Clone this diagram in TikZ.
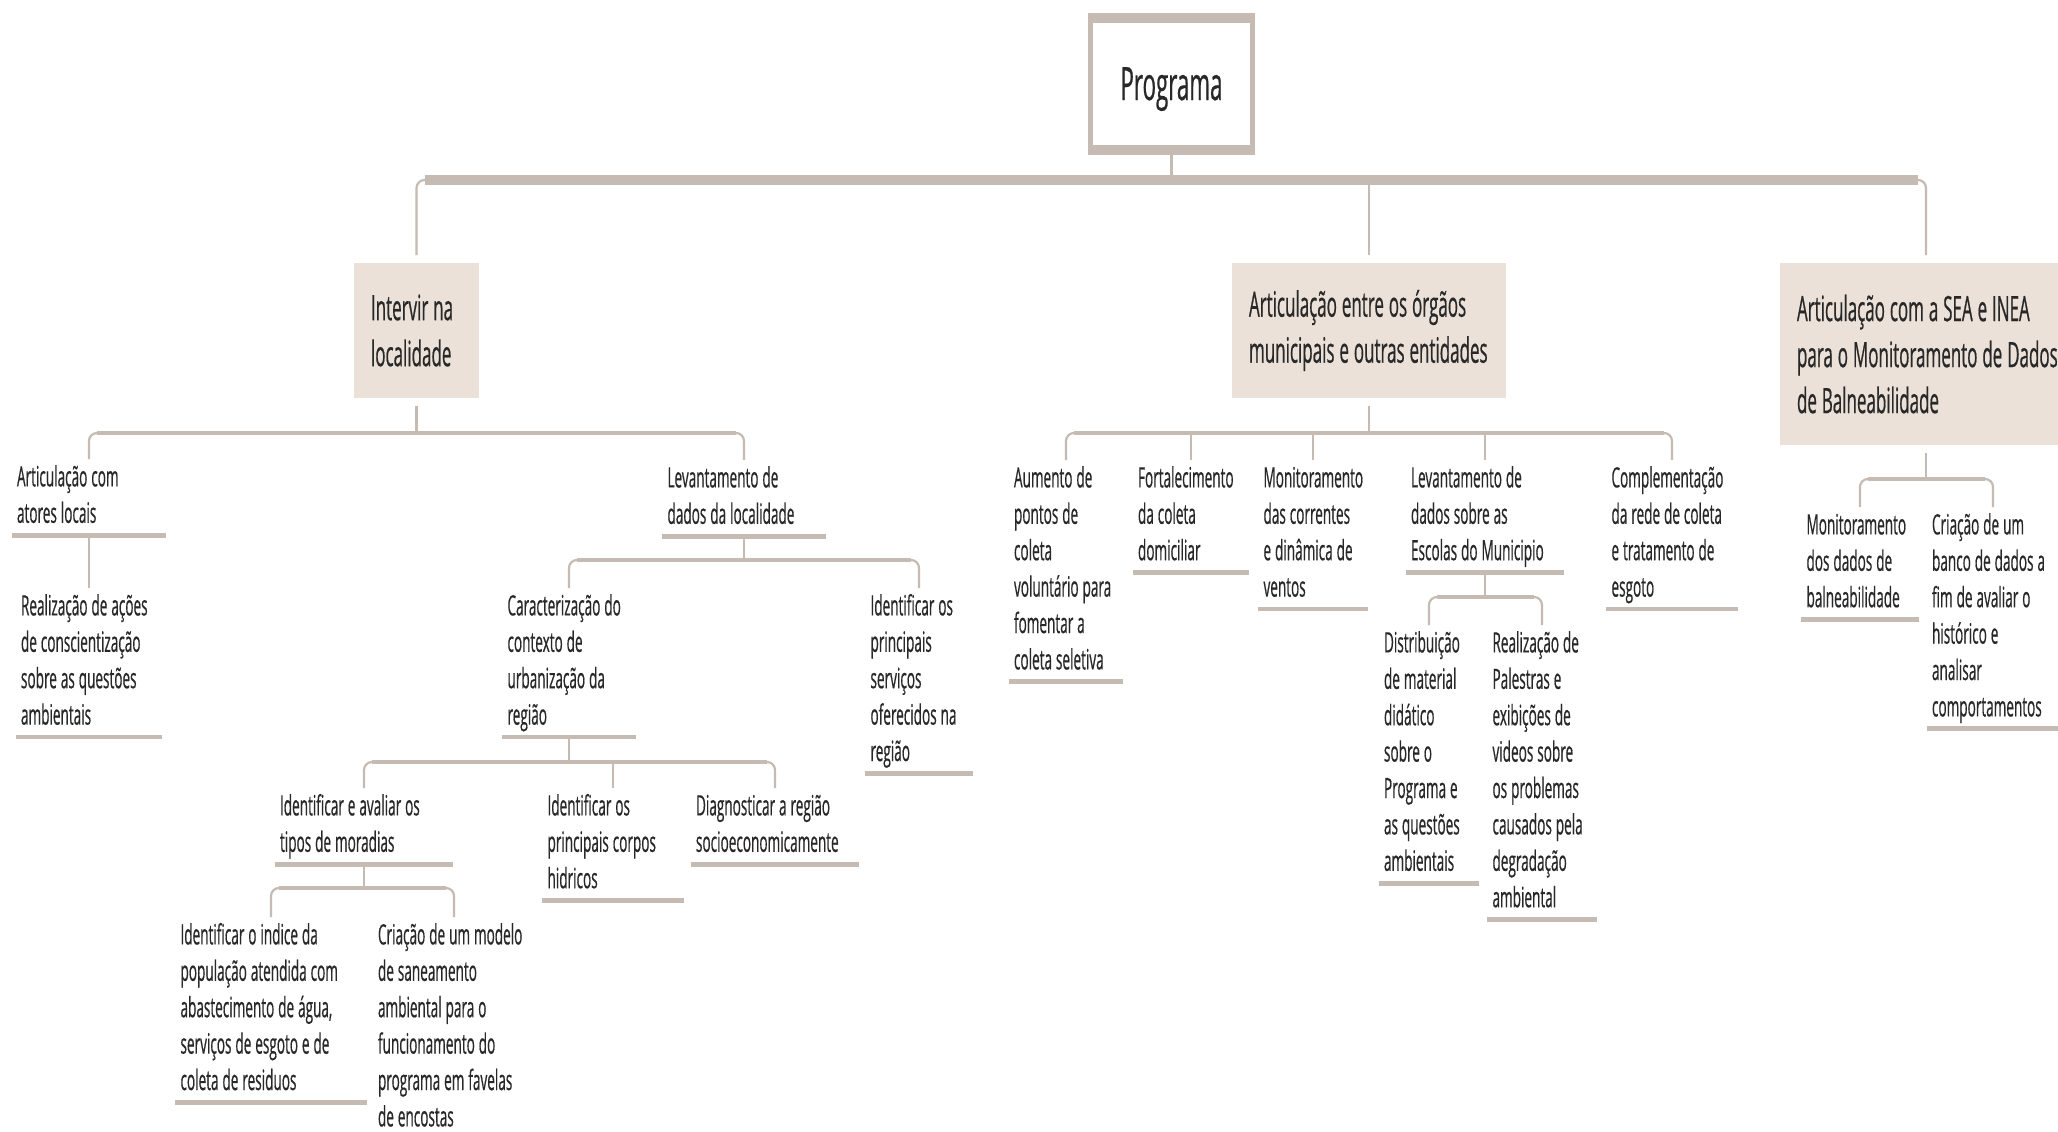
\documentclass[tikz,border=0pt]{standalone}
\usepackage{fontspec}
\setmainfont{Open Sans}[FakeStretch=0.485, FakeBold=0.5]
\hyphenpenalty=10000

\definecolor{linecol}{RGB}{198,187,178}
\definecolor{boxfill}{RGB}{235,225,217}
\definecolor{txtcol}{RGB}{40,40,40}

\newcommand{\progfont}{\fontsize{23pt}{28pt}\selectfont\spaceskip=0.14em\relax}
\newcommand{\topicfont}{\fontsize{17.5pt}{23pt}\selectfont\spaceskip=0.14em\relax}
\newcommand{\leaffont}{\fontsize{14pt}{18.2pt}\selectfont\spaceskip=0.14em\relax}
\newcommand{\tstrut}{\rule[-4.5pt]{0pt}{16.5pt}}

\tikzstyle{prog} = [rectangle, draw=linecol, line width=2.5pt, fill=white, minimum width=81pt, minimum height=68.5pt, text height=17pt, text depth=1pt, font=\progfont, text=txtcol]
\tikzstyle{topic} = [rectangle, fill=boxfill, minimum height=67.5pt, inner xsep=8.5pt, outer sep=4pt, align=flush left, font=\topicfont, text=txtcol]
\tikzstyle{leaf} = [rectangle, anchor=north, inner xsep=2.5pt, inner ysep=1.5pt, align=flush left, font=\leaffont, text=txtcol, execute at begin node=\tstrut, execute at end node=\tstrut]
\tikzstyle{stem} = [draw=linecol, line width=1.1pt, rounded corners=4pt]
\tikzstyle{rail} = [draw=linecol, line width=2pt, shorten <=4pt, shorten >=4pt]
\tikzstyle{trunk} = [draw=linecol, line width=5pt, shorten <=4pt, shorten >=4pt]
\tikzstyle{uline} = [draw=linecol, line width=2.4pt]

\begin{document}
\begin{tikzpicture}[x=0.5pt, y=-0.5pt]

    \clip (0,0) rectangle (2058,1131);
    \fill [white] (0,0) rectangle (2058,1131);

    % Nodes
    \node (prog) [prog] at (1171.5,84) {Programa};

    \node (intervir) [topic, text width=45.5pt] at (416.5,330.5) {Intervir na\\localidade};
    \node (orgaos) [topic, text width=120pt] at (1369,330.5) {Articulação entre os órgãos\\municipais e outras entidades};
    \node (sea) [topic, text width=140pt, minimum height=91pt, anchor=west] at (1772,354) {Articulação com a SEA e INEA\\para o Monitoramento de Dados\\de Balneabilidade};
    \coordinate (seatop) at ([xshift=77pt]sea.north west);
    \coordinate (seabot) at ([xshift=77pt]sea.south west);

    \node (a1) [leaf, text width=72pt] at (89,459) {Articulação com\\atores locais};
    \node (a11) [leaf, text width=68pt] at (89,588) {Realização de ações\\de conscientização\\sobre as questões\\ambientais};
    \node (a2) [leaf, text width=76.5pt] at (744,460) {Levantamento de\\dados da localidade};
    \node (a21) [leaf, text width=61.5pt] at (569,588) {Caracterização do\\contexto de\\urbanização da\\região};
    \node (a22) [leaf, text width=48.5pt] at (919,588) {Identificar os\\principais\\serviços\\oferecidos na\\região};
    \node (a211) [leaf, text width=84pt] at (364,788) {Identificar e avaliar os\\tipos de moradias};
    \node (a212) [leaf, text width=65.5pt] at (613,788) {Identificar os\\principais corpos\\hidricos};
    \node (a213) [leaf, text width=79pt] at (775,788) {Diagnosticar a região\\socioeconomicamente};
    \node (a2111) [leaf, text width=90.5pt] at (271,917) {Identificar o indice da\\população atendida com\\abastecimento de água,\\serviços de esgoto e de\\coleta de residuos};
    \node (a2112) [leaf, text width=76pt] at (454,917) {Criação de um modelo\\de saneamento\\ambiental para o\\funcionamento do\\programa em favelas\\de encostas};

    \node (b1) [leaf, text width=52pt] at (1066,460) {Aumento de\\pontos de\\coleta\\voluntário para\\fomentar a\\coleta seletiva};
    \node (b2) [leaf, text width=53pt] at (1191,460) {Fortalecimento\\da coleta\\domiciliar};
    \node (b3) [leaf, text width=49.5pt] at (1313,460) {Monitoramento\\das correntes\\e dinâmica de\\ventos};
    \node (b4) [leaf, text width=74pt] at (1485,460) {Levantamento de\\dados sobre as\\Escolas do Municipio};
    \node (b5) [leaf, text width=60.5pt] at (1672,460) {Complementação\\da rede de coleta\\e tratamento de\\esgoto};
    \node (b41) [leaf, text width=45pt] at (1429,625) {Distribuição\\de material\\didático\\sobre o\\Programa e\\as questões\\ambientais};
    \node (b42) [leaf, text width=49.5pt] at (1542,625) {Realização de\\Palestras e\\exibições de\\videos sobre\\os problemas\\causados pela\\degradação\\ambiental};

    \node (c1) [leaf, text width=53.5pt] at (1860,507) {Monitoramento\\dos dados de\\balneabilidade};
    \node (c2) [leaf, text width=61pt] at (1993,507) {Criação de um\\banco de dados a\\fim de avaliar o\\histórico e\\analisar\\comportamentos};

    % Junctions
    \coordinate (j0) at (1171,180);
    \coordinate (j1) at (417,433);
    \coordinate (j2) at (1369,433);
    \coordinate (j3) at (1927,479);
    \coordinate (j4) at (744,560);
    \coordinate (j5) at (569,762);
    \coordinate (j6) at (364,888);
    \coordinate (j7) at (1485,597);

    % Programa border bands
    \draw [linecol, line width=5pt] ([yshift=-2.5pt]prog.north west) -- ([yshift=-2.5pt]prog.north east);
    \draw [linecol, line width=5pt] ([yshift=2.5pt]prog.south west) -- ([yshift=2.5pt]prog.south east);

    % Underlines
    \draw [uline] (a1.south west) -- (a1.south east);
    \draw [uline] (a11.south west) -- (a11.south east);
    \draw [uline] (a2.south west) -- (a2.south east);
    \draw [uline] (a21.south west) -- (a21.south east);
    \draw [uline] (a22.south west) -- (a22.south east);
    \draw [uline] (a211.south west) -- (a211.south east);
    \draw [uline] (a212.south west) -- (a212.south east);
    \draw [uline] (a213.south west) -- (a213.south east);
    \draw [uline] (a2111.south west) -- (a2111.south east);
    \draw [uline] (a2112.south west) -- (a2112.south east);
    \draw [uline] (b1.south west) -- (b1.south east);
    \draw [uline] (b2.south west) -- (b2.south east);
    \draw [uline] (b3.south west) -- (b3.south east);
    \draw [uline] (b4.south west) -- (b4.south east);
    \draw [uline] (b5.south west) -- (b5.south east);
    \draw [uline] (b41.south west) -- (b41.south east);
    \draw [uline] (b42.south west) -- (b42.south east);
    \draw [uline] (c1.south west) -- (c1.south east);
    \draw [uline] (c2.south west) -- (c2.south east);

    % Lines
    \draw [stem] (prog.south) -- (prog.south |- j0);
    \draw [stem] (intervir.north) -- (intervir.north |- j0) -- (seatop |- j0) -- (seatop);
    \draw [stem] (orgaos.north) -- (orgaos.north |- j0);
    \draw [trunk] (intervir.north |- j0) -- (seatop |- j0);

    \draw [stem] (intervir.south) -- (intervir.south |- j1);
    \draw [stem] (a1.north) -- (a1.north |- j1) -- (a2.north |- j1) -- (a2.north);
    \draw [rail] (a1.north |- j1) -- (a2.north |- j1);
    \draw [stem] (a1.south) -- (a11.north);

    \draw [stem] (a2.south) -- (a2.south |- j4);
    \draw [stem] (a21.north) -- (a21.north |- j4) -- (a22.north |- j4) -- (a22.north);
    \draw [rail] (a21.north |- j4) -- (a22.north |- j4);

    \draw [stem] (a21.south) -- (a21.south |- j5);
    \draw [stem] (a211.north) -- (a211.north |- j5) -- (a213.north |- j5) -- (a213.north);
    \draw [stem] (a212.north) -- (a212.north |- j5);
    \draw [rail] (a211.north |- j5) -- (a213.north |- j5);

    \draw [stem] (a211.south) -- (a211.south |- j6);
    \draw [stem] (a2111.north) -- (a2111.north |- j6) -- (a2112.north |- j6) -- (a2112.north);
    \draw [rail] (a2111.north |- j6) -- (a2112.north |- j6);

    \draw [stem] (orgaos.south) -- (orgaos.south |- j2);
    \draw [stem] (b1.north) -- (b1.north |- j2) -- (b5.north |- j2) -- (b5.north);
    \draw [stem] (b2.north) -- (b2.north |- j2);
    \draw [stem] (b3.north) -- (b3.north |- j2);
    \draw [stem] (b4.north) -- (b4.north |- j2);
    \draw [rail] (b1.north |- j2) -- (b5.north |- j2);

    \draw [stem] (b4.south) -- (b4.south |- j7);
    \draw [stem] (b41.north) -- (b41.north |- j7) -- (b42.north |- j7) -- (b42.north);
    \draw [rail] (b41.north |- j7) -- (b42.north |- j7);

    \draw [stem] (seabot) -- (seabot |- j3);
    \draw [stem] (c1.north) -- (c1.north |- j3) -- (c2.north |- j3) -- (c2.north);
    \draw [rail] (c1.north |- j3) -- (c2.north |- j3);

\end{tikzpicture}
\end{document}
